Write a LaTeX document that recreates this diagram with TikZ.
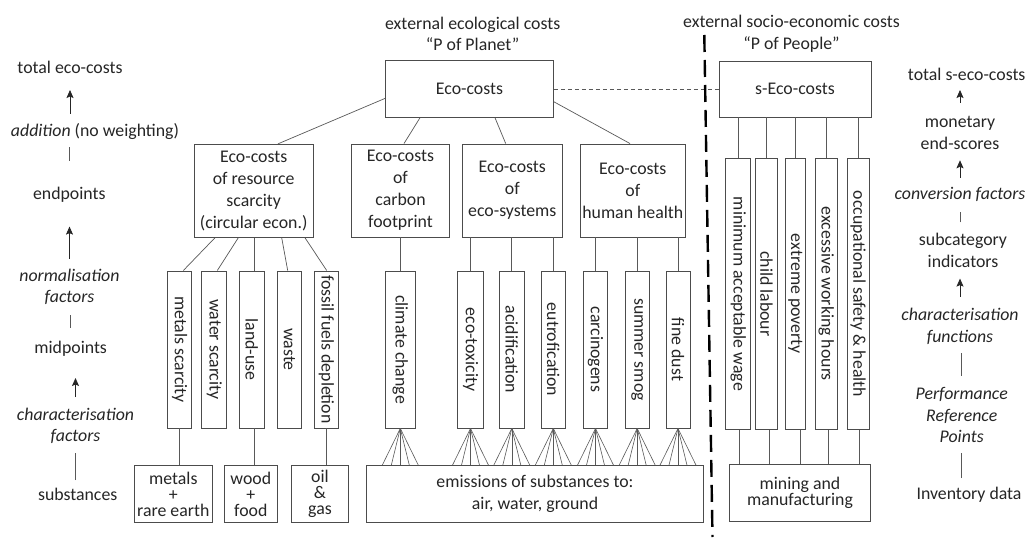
\documentclass[tikz,border=0pt]{standalone}
\usepackage{fontspec}
\setmainfont{Carlito}
\usepackage{graphicx}
\usepackage{tikz}
\usetikzlibrary{arrows.meta,positioning}
\tikzset{
	boite/.style={draw=black!70,line width=0.9pt,fill=white,inner sep=1pt,align=center,text=black!85,font=\fontsize{17.8}{22}\selectfont},
	vboite/.style={boite,minimum height=157pt},
	vboiteS/.style={boite,minimum height=270.8pt},
	bas/.style={boite,minimum height=56.8pt,font=\fontsize{17.8}{16}\selectfont},
	lab/.style={inner sep=0pt,align=center,text=black!85,font=\fontsize{17.8}{21.7}\selectfont},
	labit/.style={lab,font=\fontsize{17.8}{21.7}\selectfont\itshape},
	lien/.style={draw=black!65,line width=0.7pt},
	fleche/.style={lien,draw=black!85,line width=0.8pt,-{Stealth[length=8pt,width=7pt,inset=1.5pt]}}
}

\begin{document}
\begin{tikzpicture}[x=1pt,y=-1pt]
	\def\vy{349.5};
	\def\vyS{293.9};
\fill[white] (0,0) rectangle (1029,540); % fond

%Titres
\node[lab] (tplanet) at (472.7,34) {external ecological costs\\“P of Planet”};
\node[lab] (tpeople) at (791.5,34) {external socio-economic costs\\“P of People”};

%Boites du haut
\node[boite,minimum width=167.6pt,minimum height=56.6pt] (eco) at (469.5,89) {Eco-costs};
\node[boite,minimum width=152pt,minimum height=56pt] (seco) at (795,89) {s-Eco-costs};

%Categories
\node[boite,minimum width=118.7pt,minimum height=93pt] (res) at (253.7,190.8) {Eco-costs\\of resource\\scarcity\\(circular econ.)};
\node[boite,minimum width=97.6pt,minimum height=93pt] (carb) at (400.5,190.5) {Eco-costs\\of\\carbon\\footprint};
\node[boite,minimum width=100pt,minimum height=93pt] (esys) at (512.3,190.5) {Eco-costs\\of\\eco-systems};
\node[boite,minimum width=105.7pt,minimum height=93pt] (hh) at (632.8,190.5) {Eco-costs\\of\\human health};

%Midpoints (ecologiques)
\node[vboite,minimum width=24pt] (ms) at (179.7,\vy) {\rotatebox{-90}{metals scarcity}};
\node[vboite,minimum width=25pt] (ws) at (214.2,\vy) {\rotatebox{-90}{water scarcity}};
\node[vboite,minimum width=24.7pt] (lu) at (251.7,\vy) {\rotatebox{-90}{land-use}};
\node[vboite,minimum width=24.4pt] (wa) at (289.5,\vy) {\rotatebox{-90}{waste}};
\node[vboite,minimum width=24pt] (ff) at (326.3,\vy) {\rotatebox{-90}{fossil fuels depletion}};
\node[vboite,minimum width=30.7pt] (cc) at (400.3,\vy) {\rotatebox{-90}{climate change}};
\node[vboite,minimum width=25.6pt] (et) at (470.5,\vy) {\rotatebox{-90}{eco-toxicity}};
\node[vboite,minimum width=25pt] (ac) at (511.8,\vy) {\rotatebox{-90}{acidification}};
\node[vboite,minimum width=24.7pt] (eu) at (553.3,\vy) {\rotatebox{-90}{eutrofication}};
\node[vboite,minimum width=24.4pt] (ca) at (595.5,\vy) {\rotatebox{-90}{carcinogens}};
\node[vboite,minimum width=24.3pt] (ss) at (637.2,\vy) {\rotatebox{-90}{summer smog}};
\node[vboite,minimum width=24pt] (fd) at (678,\vy) {\rotatebox{-90}{fine dust}};

%Indicateurs sociaux
\node[vboiteS,minimum width=25pt] (mw) at (738.2,\vyS) {\rotatebox{-90}{minimum acceptable wage}};
\node[vboiteS,minimum width=21.6pt] (cl) at (766.5,\vyS) {\rotatebox{-90}{child labour}};
\node[vboiteS,minimum width=19.3pt] (ep) at (795.3,\vyS) {\rotatebox{-90}{extreme poverty}};
\node[vboiteS,minimum width=22.3pt] (ew) at (826.2,\vyS) {\rotatebox{-90}{excessive working hours}};
\node[vboiteS,minimum width=22.4pt] (os) at (858.2,\vyS) {\rotatebox{-90}{occupational safety \& health}};

%Substances
\node[bas,minimum width=78pt] (mre) at (173.3,494) {metals\\+\\rare earth};
\node[bas,minimum width=53pt] (wf) at (250.8,494) {wood\\+\\food};
\node[bas,minimum width=56.6pt] (og) at (320,494) {oil\\\&\\gas};
\node[boite,minimum width=336.6pt,minimum height=56.8pt] (em) at (535,494) {emissions of substances to:\\air, water, ground};
\node[bas,minimum width=141.4pt,minimum height=57.7pt] (mm) at (800,493) {mining and\\manufacturing};

%Liens du haut
\draw[lien] ([yshift=-9.3pt]eco.west) -- ([xshift=24.3pt]res.north);
\draw[lien] ([xshift=-49.5pt]eco.south) -- ([xshift=3.5pt]carb.north);
\draw[lien] ([xshift=25.5pt]eco.south) -- ([xshift=-6.6pt]esys.north);
\draw[lien] ([yshift=-12.7pt]eco.east) -- ([xshift=-2.8pt]hh.north);
\draw[lien,dash pattern=on 4pt off 3pt] (eco.east) -- (seco.west);

%Liens vers les midpoints
\draw[lien] ([xshift=-38.7pt]res.south) -- ([xshift=3.6pt]ms.north);
\draw[lien] ([xshift=-15.4pt]res.south) -- ([xshift=3.1pt]ws.north);
\draw[lien] ([xshift=0.6pt]res.south) -- ([xshift=2.6pt]lu.north);
\draw[lien] ([xshift=28pt]res.south) -- ([xshift=-1.8pt]wa.north);
\draw[lien] ([xshift=51.3pt]res.south) -- ([xshift=0.4pt]ff.north);
\draw[lien] (cc.north |- carb.south) -- (cc.north);
\foreach \n in {et,ac,eu}
	\draw[lien] (\n.north |- esys.south) -- (\n.north);
\foreach \n in {ca,ss,fd}
	\draw[lien] (\n.north |- hh.south) -- (\n.north);
\foreach \n in {mw,cl,ep,ew,os}
	\draw[lien] (\n.north |- seco.south) -- (\n.north);

%Liens vers les substances
\draw[lien] (ms.south) -- (ms.south |- mre.north);
\draw[lien] ([xshift=2.6pt]lu.south) -- ([xshift=2.6pt]lu.south |- wf.north);
\draw[lien] (ff.south) -- (ff.south |- og.north);
\foreach \n/\d in {mw/1.3,cl/2.5,ep/5.4,ew/2.1,os/1.1}
	\draw[lien] ([xshift=\d pt]\n.south) -- ([xshift=\d pt]\n.south |- mm.north);

%Eventails des emissions
\foreach \n in {cc,et,ac,eu,ca,ss,fd}
	\foreach \d in {-18,-9,0,9,18}
		\draw[lien,line width=0.6pt] (\n.south) -- ([xshift=\d pt]\n.south |- em.north);

%Colonne de gauche
\node[lab] (tot) at (70,67) {total eco-costs};
\node[lab] (add) at (95,131.7) {\textit{addition} (no weighting)};
\node[lab] (endp) at (69.3,194.8) {endpoints};
\node[labit] (norm) at (69.5,286.8) {normalisation\\factors};
\node[lab] (midp) at (70.7,348.3) {midpoints};
\node[labit] (charf) at (75.5,426) {characterisation\\factors};
\node[lab] (subs) at (77.7,494) {substances};

\draw[fleche,shorten <=17.7pt,shorten >=23pt] (tot.center |- add.center) -- (tot.center);
\draw[lien,shorten <=33.8pt,shorten >=14.9pt] (endp.center) -- (endp.center |- add.center);
\draw[fleche,shorten <=28.2pt,shorten >=31.8pt] (norm.center) -- (norm.center |- endp.center);
\draw[lien,shorten <=20.7pt,shorten >=28.2pt] (midp.center) -- (midp.center |- norm.center);
\draw[fleche,shorten <=29pt,shorten >=29.7pt] (charf.center) -- (charf.center |- midp.center);
\draw[lien,shorten <=14pt,shorten >=27pt] (charf.center |- subs.center) -- (charf.center);

%Colonne de droite
\node[lab] (stot) at (966.7,74) {total s-eco-costs};
\node[lab] (mon) at (960,133.2) {monetary\\end-scores};
\node[labit] (conv) at (960,194.8) {conversion factors};
\node[lab] (subc) at (963,250.5) {subcategory\\indicators};
\node[labit] (charfn) at (960,326.3) {characterisation\\functions};
\node[labit] (prp) at (961.7,415) {Performance\\Reference\\Points};
\node[lab] (inv) at (969,495) {Inventory data};

\draw[fleche,shorten <=30.2pt,shorten >=16pt] (mon.center) -- (mon.center |- stot.center);
\draw[fleche,shorten <=17.2pt,shorten >=27.1pt] (conv.center) -- (conv.center |- mon.center);
\draw[lien,shorten <=28.1pt,shorten >=17.2pt] (conv.center |- subc.center) -- (conv.center);
\draw[fleche,shorten <=29.7pt,shorten >=28.1pt] (charfn.center) -- (charfn.center |- subc.center);
\draw[lien,shorten <=39.1pt,shorten >=27.1pt] (prp.center) -- (prp.center |- charfn.center);
\draw[lien,shorten <=17pt,shorten >=38pt] (prp.center |- inv.center) -- (prp.center);

%Separation
\coordinate (dtop) at (704.3,35) {};
\coordinate (dbas) at (712.5,537) {};
\draw[line width=2.4pt,dash pattern=on 17pt off 8pt] (dtop) -- (dbas);

\end{tikzpicture}
\end{document}
